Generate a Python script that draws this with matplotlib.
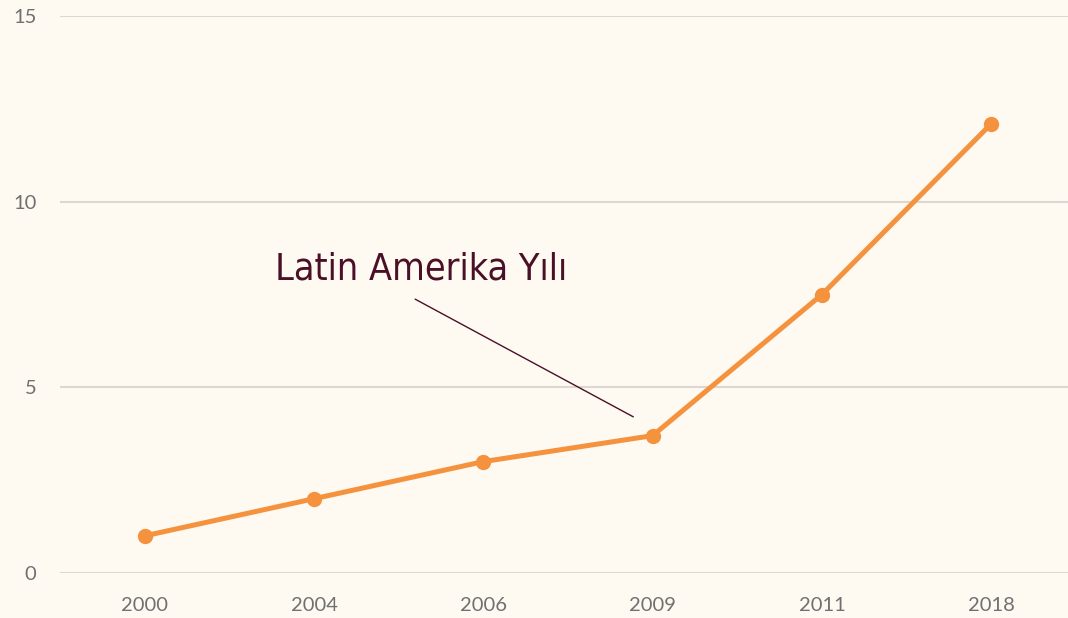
import matplotlib
matplotlib.use("Agg")
import matplotlib.pyplot as plt

years = ["2000", "2004", "2006", "2009", "2011", "2018"]
values = [1.0, 2.0, 3.0, 3.7, 7.5, 12.1]
yticks = [0, 5, 10, 15]
annotation_text = "Latin Amerika Yılı"

bg = "#FEF9F1"
line_color = "#F5923E"
text_color = "#4A1028"
tick_color = "#707070"
grid_color = "#DCD8D1"

fig = plt.figure(figsize=(10.68, 6.18), dpi=100, facecolor=bg)
ax = fig.add_axes([60 / 1068, 45 / 618, (1076 - 60) / 1068, 557 / 618])
ax.set_facecolor(bg)

x = list(range(len(years)))
ax.plot(x, values, color=line_color, lw=3.6, marker="o", markersize=10,
        solid_capstyle="round", zorder=3, clip_on=False)

ax.set_xlim(-0.5, len(years) - 0.5)
ax.set_ylim(0, 15)
ax.set_xticks(x)
ax.set_xticklabels(years)
ax.set_yticks(yticks)
ax.set_yticklabels([str(t) for t in yticks])
ax.grid(axis="y", color=grid_color, lw=1.5)
ax.set_axisbelow(True)
for s in ax.spines.values():
    s.set_visible(False)
ax.tick_params(axis="both", length=0, colors=tick_color, labelsize=14.5)
ax.tick_params(axis="y", pad=17)
ax.tick_params(axis="x", pad=17)
for lab in ax.get_xticklabels() + ax.get_yticklabels():
    lab.set_fontfamily("Lato")

ax.annotate("", xy=(2.90, 4.17), xytext=(1.583, 7.41),
            arrowprops=dict(arrowstyle="-", color=text_color, lw=1.0))
ax.text(0.768, 7.9, annotation_text, color=text_color, fontsize=27,
        family=["DejaVu Sans"], fontstretch="condensed", ha="left", va="baseline")

fig.savefig("out.png", dpi=100, facecolor=bg)
